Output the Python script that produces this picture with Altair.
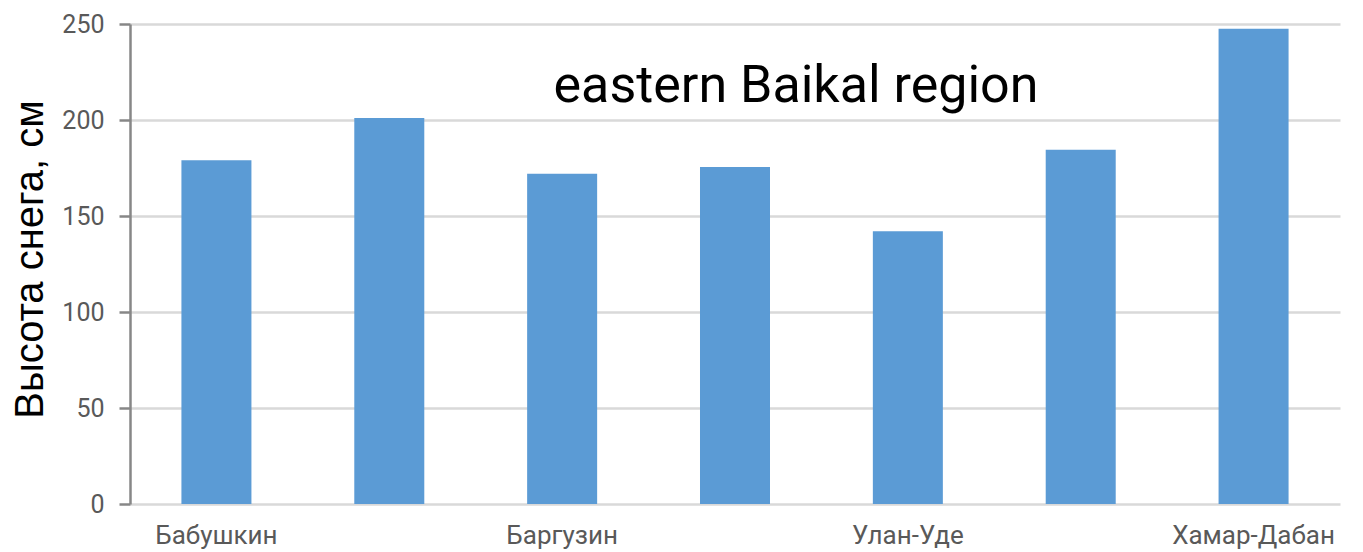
import altair as alt
import pandas as pd

stations = ["Бабушкин", "Выдрино", "Баргузин", "Горячинск", "Улан-Уде", "Усть-Баргузин", "Хамар-Дабан"]
snow_cm = [179, 201, 172, 175.5, 142, 184.5, 247.5]
shown_labels = ["Бабушкин", "Баргузин", "Улан-Уде", "Хамар-Дабан"]
y_ticks = [0, 50, 100, 150, 200, 250]
title_text = ["eastern Baikal region"]

df = pd.DataFrame({"station": stations, "snow": snow_cm})

bars = alt.Chart(df).mark_bar(color="#5b9bd5").encode(
    x=alt.X(
        "station:N",
        sort=None,
        scale=alt.Scale(paddingInner=0.595, paddingOuter=0.2975),
        axis=alt.Axis(
            title=None,
            values=shown_labels,
            domain=False,
            ticks=False,
            labelAngle=0,
            labelFont="Roboto",
            labelFontSize=26,
            labelColor="#595959",
            labelPadding=39,
            labelBaseline="alphabetic",
            labelOverlap=False,
            grid=False,
        ),
    ),
    y=alt.Y(
        "snow:Q",
        scale=alt.Scale(domain=[0, 250], nice=False),
        axis=alt.Axis(
            title="Высота снега, см",
            titleFont="Liberation Sans",
            titleFontSize=40,
            titleFontWeight="normal",
            titleColor="#000000",
            titleX=-88,
            titleY=235,
            titleBaseline="alphabetic",
            titleAngle=270,
            values=y_ticks,
            domainColor="#878787",
            domainWidth=2.5,
            tickColor="#878787",
            tickWidth=2.5,
            tickSize=11,
            labelFont="Roboto",
            labelFontSize=25,
            labelColor="#595959",
            labelPadding=15,
            gridColor="#d9d9d9",
            gridWidth=2.5,
        ),
    ),
)

tdf = pd.DataFrame({"t": title_text})
title = alt.Chart(tdf).mark_text(
    font="Roboto", fontSize=52, color="#000000", align="center", baseline="alphabetic"
).encode(
    text="t:N",
    x=alt.value(666),
    y=alt.value(78),
)

chart = alt.layer(bars, title).properties(
    width=1210,
    height=480,
    autosize=alt.AutoSizeParams(type="none"),
    padding={"left": 122, "top": 16, "right": 15, "bottom": 46},
).configure_view(stroke=None)

chart.save("out.html", embed_options={"renderer": "svg", "actions": False})
